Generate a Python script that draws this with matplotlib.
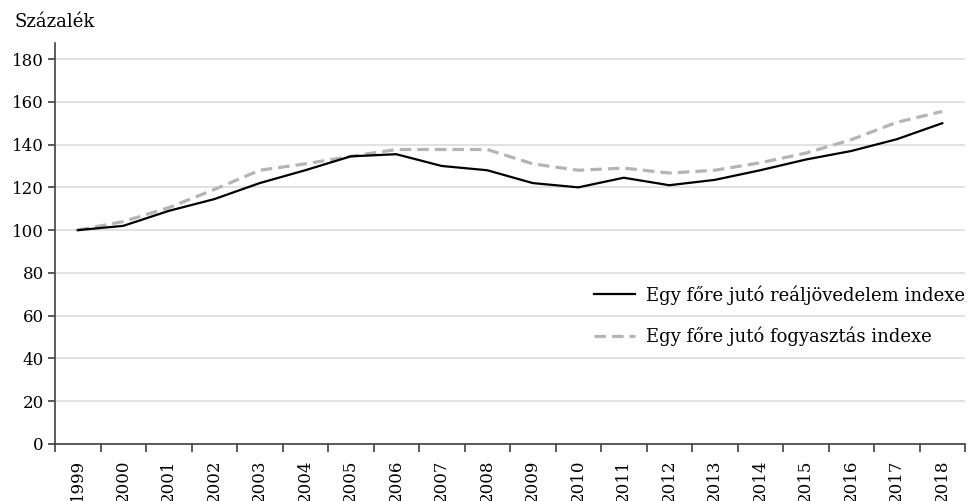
import matplotlib
matplotlib.use("Agg")
import matplotlib.pyplot as plt
import numpy as np

plt.rcParams['font.family'] = ['DejaVu Serif']

years = [str(y) for y in range(1999, 2019)]
jovedelem = [100, 102, 109, 114.5, 122, 128, 134.5, 135.5, 130, 128,
             122, 120, 124.5, 121, 123.5, 128, 133, 137, 142.5, 150]
fogyasztas = [100, 104, 110.5, 119, 128, 131, 134.5, 137.7, 137.7, 137.7,
              131, 128, 129, 126.7, 128, 131.5, 136, 142.3, 150.4, 155.5]
label_jov = 'Egy főre jutó reáljövedelem indexe'
label_fogy = 'Egy főre jutó fogyasztás indexe'

fig = plt.figure(figsize=(9.69, 5.01), dpi=100)
ax = fig.add_axes([55 / 969, 1 - 444 / 501, 910 / 969, (444 - 43) / 501])

x = np.arange(len(years))
ax.plot(x, jovedelem, color='black', lw=1.6, label=label_jov, zorder=3)
ax.plot(x, fogyasztas, color='#b4b4b4', lw=2.3, dashes=[3.6, 1.9],
        label=label_fogy, zorder=2)

ax.set_xlim(-0.5, len(years) - 0.5)
ax.set_ylim(0, 187.5)
ax.set_yticks(range(0, 181, 20))
ax.set_xticks(x)
ax.set_xticklabels(years, rotation=90, fontsize=12)
ax.set_xticks(np.arange(-0.5, len(years), 1), minor=True)
ax.tick_params(axis='x', which='major', length=0, pad=11)
ax.tick_params(axis='x', which='minor', length=6, width=1.2, color='#404040')
ax.tick_params(axis='y', length=5, width=1.2, color='#404040', labelsize=12, pad=3)

ax.grid(axis='y', color='#dcdcdc', lw=1.2)
ax.set_axisbelow(True)
for s in ['top', 'right']:
    ax.spines[s].set_visible(False)
for s in ['left', 'bottom']:
    ax.spines[s].set_color('#404040')
    ax.spines[s].set_linewidth(1.2)

fig.text(15 / 969, 1 - 22 / 501, 'Százalék', fontsize=13, va='center', ha='left')

ax.legend(loc='center right', bbox_to_anchor=(965 / 969, 1 - 315.5 / 501),
          bbox_transform=fig.transFigure, frameon=False, fontsize=13,
          handlelength=2.3, handletextpad=0.6, labelspacing=1.2,
          borderpad=0, borderaxespad=0)

fig.savefig('out.png', dpi=100)
